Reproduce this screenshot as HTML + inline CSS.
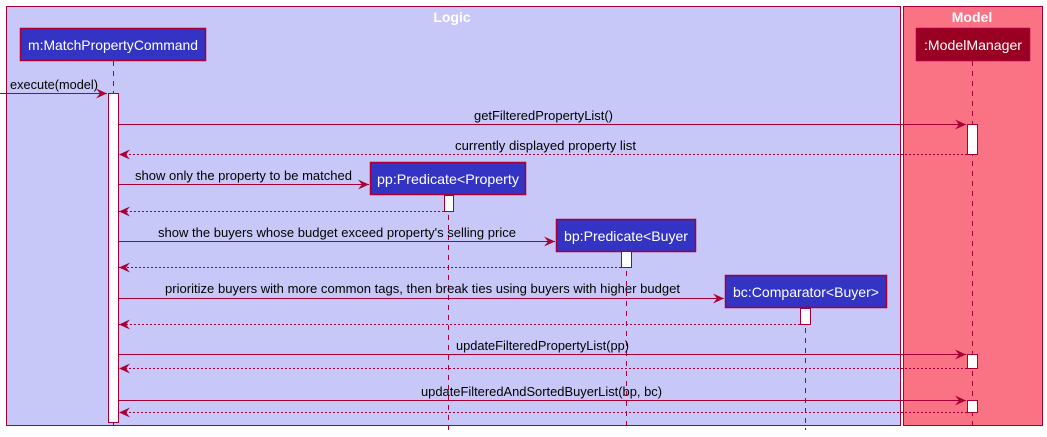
<!DOCTYPE html>
<html><head><meta charset="utf-8"><style>
html,body{margin:0;padding:0;background:#fff;}
svg{display:block;}
text{font-family:"Liberation Sans",sans-serif;font-size:13px;fill:#000;}
.w{fill:#fff;font-size:14px;}
.t{fill:#fff;font-size:14px;font-weight:bold;}
</style></head><body>
<svg width="1047" height="437" viewBox="0 0 1047 437" xmlns="http://www.w3.org/2000/svg">
<defs>
<marker id="a" markerWidth="12" markerHeight="10" refX="11" refY="5" orient="auto" markerUnits="userSpaceOnUse">
<path d="M0,0 L11,5 L0,10 L4,5 Z" fill="#A80036"/></marker>
</defs>
<rect x="6.5" y="6.5" width="894" height="419" fill="#C8C8F8" stroke="#A80036"/>
<rect x="903.5" y="6.5" width="139" height="419" fill="#FA7384" stroke="#A80036"/>
<text x="452" y="22" class="t" text-anchor="middle">Logic</text>
<text x="972" y="22" class="t" text-anchor="middle">Model</text>
<g stroke="#A80036" stroke-dasharray="5,5" stroke-width="1">
<line x1="113.5" y1="61" x2="113.5" y2="430"/>
<line x1="972.5" y1="61" x2="972.5" y2="430"/>
<line x1="448.5" y1="195" x2="448.5" y2="430"/>
<line x1="626.5" y1="251" x2="626.5" y2="430"/>
<line x1="805.5" y1="308" x2="805.5" y2="430"/>
</g>
<rect x="20.5" y="28.5" width="185" height="32" fill="#3333C4" stroke="#A80036" stroke-width="1.5"/>
<text x="113" y="50" class="w" text-anchor="middle" textLength="170" lengthAdjust="spacingAndGlyphs">m:MatchPropertyCommand</text>
<rect x="916.5" y="28.5" width="113" height="32" fill="#990021" stroke="#A80036" stroke-width="1.5"/>
<text x="973" y="50" class="w" text-anchor="middle" textLength="98" lengthAdjust="spacingAndGlyphs">:ModelManager</text>
<rect x="370.5" y="162.5" width="155" height="32" fill="#3333C4" stroke="#A80036" stroke-width="1.5"/>
<text x="448" y="184" class="w" text-anchor="middle" textLength="142" lengthAdjust="spacingAndGlyphs">pp:Predicate&lt;Property</text>
<rect x="556.5" y="219.5" width="139" height="32" fill="#3333C4" stroke="#A80036" stroke-width="1.5"/>
<text x="626" y="241" class="w" text-anchor="middle" textLength="124" lengthAdjust="spacingAndGlyphs">bp:Predicate&lt;Buyer</text>
<rect x="725.5" y="275.5" width="161" height="32" fill="#3333C4" stroke="#A80036" stroke-width="1.5"/>
<text x="806" y="297" class="w" text-anchor="middle" textLength="146" lengthAdjust="spacingAndGlyphs">bc:Comparator&lt;Buyer&gt;</text>
<g fill="#fff" stroke="#A80036">
<rect x="108.5" y="93.5" width="10" height="329"/>
<rect x="967.5" y="124.5" width="10" height="30"/>
<rect x="967.5" y="354.5" width="10" height="14"/>
<rect x="967.5" y="400.5" width="10" height="12"/>
<rect x="444.5" y="195.5" width="9" height="16"/>
<rect x="621.5" y="251.5" width="10" height="16"/>
<rect x="800.5" y="308.5" width="10" height="16"/>
</g>
<g stroke="#A80036" fill="none">
<line x1="0" y1="93.5" x2="107" y2="93.5" marker-end="url(#a)"/>
<line x1="119" y1="124.5" x2="966" y2="124.5" marker-end="url(#a)"/>
<line x1="967" y1="154.5" x2="119" y2="154.5" stroke-dasharray="2,2" marker-end="url(#a)"/>
<line x1="119" y1="184.5" x2="369" y2="184.5" marker-end="url(#a)"/>
<line x1="444" y1="211.5" x2="119" y2="211.5" stroke-dasharray="2,2" marker-end="url(#a)"/>
<line x1="119" y1="241.5" x2="555" y2="241.5" marker-end="url(#a)"/>
<line x1="621" y1="267.5" x2="119" y2="267.5" stroke-dasharray="2,2" marker-end="url(#a)"/>
<line x1="119" y1="298.5" x2="724" y2="298.5" marker-end="url(#a)"/>
<line x1="800" y1="324.5" x2="119" y2="324.5" stroke-dasharray="2,2" marker-end="url(#a)"/>
<line x1="119" y1="354.5" x2="966" y2="354.5" marker-end="url(#a)"/>
<line x1="967" y1="368.5" x2="119" y2="368.5" stroke-dasharray="2,2" marker-end="url(#a)"/>
<line x1="119" y1="400.5" x2="966" y2="400.5" marker-end="url(#a)"/>
<line x1="967" y1="412.5" x2="119" y2="412.5" stroke-dasharray="2,2" marker-end="url(#a)"/>
</g>
<text x="10" y="89" textLength="88" lengthAdjust="spacingAndGlyphs">execute(model)</text>
<text x="474" y="120" textLength="139" lengthAdjust="spacingAndGlyphs">getFilteredPropertyList()</text>
<text x="455" y="150" textLength="181" lengthAdjust="spacingAndGlyphs">currently displayed property list</text>
<text x="135" y="180" textLength="217" lengthAdjust="spacingAndGlyphs">show only the property to be matched</text>
<text x="158" y="237" textLength="358" lengthAdjust="spacingAndGlyphs">show the buyers whose budget exceed property's selling price</text>
<text x="165" y="293" textLength="515" lengthAdjust="spacingAndGlyphs">prioritize buyers with more common tags, then break ties using buyers with higher budget</text>
<text x="456" y="350" textLength="173" lengthAdjust="spacingAndGlyphs">updateFilteredPropertyList(pp)</text>
<text x="421" y="396" textLength="241" lengthAdjust="spacingAndGlyphs">updateFilteredAndSortedBuyerList(bp, bc)</text>
</svg>
</body></html>
